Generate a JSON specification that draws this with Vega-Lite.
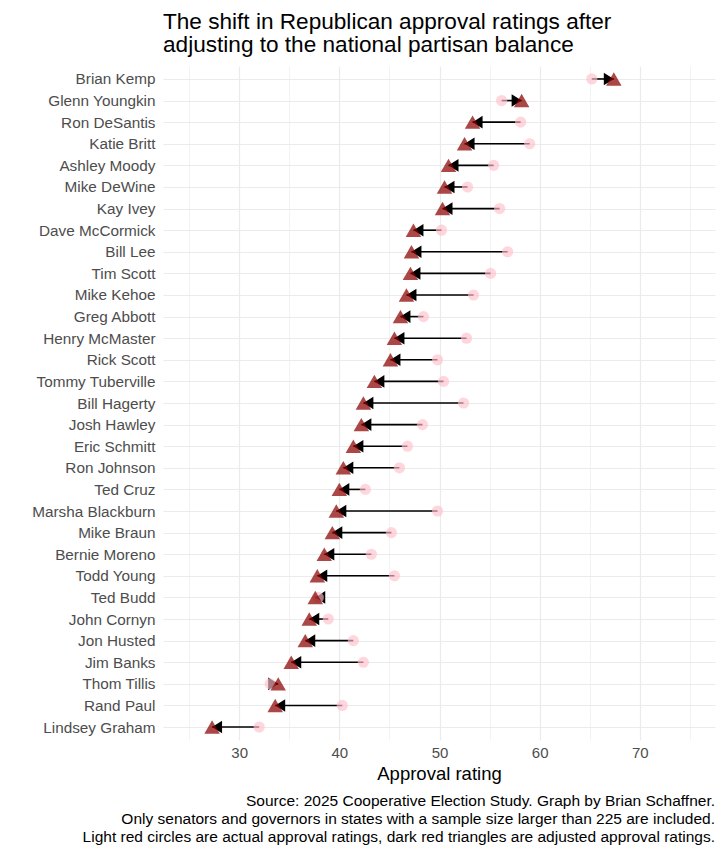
{
  "$schema": "https://vega.github.io/schema/vega-lite/v6.json",
  "padding": {"left": 31, "top": 10, "right": 12, "bottom": 2},
  "config": {
    "font": "Liberation Sans",
    "view": {"stroke": null},
    "axisY": {"ticks": false, "domain": false, "grid": true, "labelFontSize": 15.3, "labelColor": "#4D4D4D", "labelPadding": 8, "gridColor": "#EBEBEB", "gridWidth": 1.2, "minExtent": 130, "maxExtent": 130},
    "axisX": {"ticks": false, "domain": false, "grid": true, "labelFontSize": 15, "labelColor": "#4D4D4D", "labelPadding": 5, "gridColor": "#EBEBEB", "titleFontSize": 18.5, "titleFontWeight": "normal", "titleColor": "black", "titlePadding": 4}
  },
  "title": {
    "text": ["Source: 2025 Cooperative Election Study. Graph by Brian Schaffner.", "Only senators and governors in states with a sample size larger than 225 are included.", "Light red circles are actual approval ratings, dark red triangles are adjusted approval ratings."],
    "orient": "bottom", "anchor": "end", "frame": "group", "fontSize": 15.5, "fontWeight": "normal", "lineHeight": 18, "offset": 11, "color": "black", "font": "Liberation Sans"
  },
  "vconcat": [
    {
      "width": 552,
      "height": 674,
      "title": {
        "text": ["The shift in Republican approval ratings after", "adjusting to the national partisan balance"],
        "anchor": "start", "frame": "group", "fontSize": 22.6, "fontWeight": "normal", "lineHeight": 23.5, "offset": 9, "color": "black", "font": "Liberation Sans"
      },
      "data": {"values": [
        {"name": "Brian Kemp", "actual": 65.2, "adjusted": 67.4},
        {"name": "Glenn Youngkin", "actual": 56.2, "adjusted": 58.2},
        {"name": "Ron DeSantis", "actual": 58.1, "adjusted": 53.3},
        {"name": "Katie Britt", "actual": 59.0, "adjusted": 52.5},
        {"name": "Ashley Moody", "actual": 55.4, "adjusted": 50.9},
        {"name": "Mike DeWine", "actual": 52.8, "adjusted": 50.5},
        {"name": "Kay Ivey", "actual": 56.0, "adjusted": 50.3},
        {"name": "Dave McCormick", "actual": 50.2, "adjusted": 47.4},
        {"name": "Bill Lee", "actual": 56.8, "adjusted": 47.2},
        {"name": "Tim Scott", "actual": 55.1, "adjusted": 47.1},
        {"name": "Mike Kehoe", "actual": 53.4, "adjusted": 46.7},
        {"name": "Greg Abbott", "actual": 48.4, "adjusted": 46.1},
        {"name": "Henry McMaster", "actual": 52.7, "adjusted": 45.5},
        {"name": "Rick Scott", "actual": 49.8, "adjusted": 45.1},
        {"name": "Tommy Tuberville", "actual": 50.4, "adjusted": 43.5},
        {"name": "Bill Hagerty", "actual": 52.4, "adjusted": 42.4},
        {"name": "Josh Hawley", "actual": 48.3, "adjusted": 42.2},
        {"name": "Eric Schmitt", "actual": 46.8, "adjusted": 41.4},
        {"name": "Ron Johnson", "actual": 46.0, "adjusted": 40.4},
        {"name": "Ted Cruz", "actual": 42.6, "adjusted": 40.0},
        {"name": "Marsha Blackburn", "actual": 49.8, "adjusted": 39.7},
        {"name": "Mike Braun", "actual": 45.2, "adjusted": 39.3},
        {"name": "Bernie Moreno", "actual": 43.2, "adjusted": 38.5},
        {"name": "Todd Young", "actual": 45.5, "adjusted": 37.8},
        {"name": "Ted Budd", "actual": 37.9, "adjusted": 37.6},
        {"name": "John Cornyn", "actual": 38.9, "adjusted": 37.0},
        {"name": "Jon Husted", "actual": 41.4, "adjusted": 36.6},
        {"name": "Jim Banks", "actual": 42.4, "adjusted": 35.2},
        {"name": "Thom Tillis", "actual": 33.1, "adjusted": 33.9},
        {"name": "Rand Paul", "actual": 40.3, "adjusted": 33.6},
        {"name": "Lindsey Graham", "actual": 32.0, "adjusted": 27.3}
      ]},
      "encoding": {
        "y": {"field": "name", "type": "nominal", "sort": null, "title": null, "scale": {"type": "point", "padding": 0.6}}
      },
      "layer": [
        {
          "mark": {"type": "rule", "color": "black", "strokeWidth": 1.6},
          "encoding": {
            "x": {"field": "actual", "type": "quantitative", "title": "Approval rating",
              "scale": {"domain": [22.4, 77.5], "nice": false, "zero": false},
              "axis": {
                "values": [25, 30, 35, 40, 45, 50, 55, 60, 65, 70, 75],
                "labelExpr": "datum.value % 10 === 0 ? datum.label : ''",
                "gridWidth": {"condition": {"test": "datum.value % 10 === 5", "value": 0.6}, "value": 1.2}
              }},
            "x2": {"field": "adjusted"}
          }
        },
        {
          "mark": {"type": "point", "filled": true, "color": "black", "opacity": 1, "size": 400, "strokeWidth": 0},
          "encoding": {
            "x": {"field": "adjusted", "type": "quantitative", "title": "Approval rating"},
            "shape": {"condition": {"test": "datum.adjusted < datum.actual", "value": "M0,0L1,-0.63L1,0.63Z"}, "value": "M0,0L-1,-0.63L-1,0.63Z"}
          }
        },
        {
          "mark": {"type": "circle", "color": "pink", "opacity": 0.65, "size": 125},
          "encoding": {
            "x": {"field": "actual", "type": "quantitative", "title": "Approval rating"}
          }
        },
        {
          "mark": {"type": "point", "shape": "triangle-up", "filled": true, "color": "#8B0000", "opacity": 0.72, "size": 240, "strokeWidth": 0},
          "encoding": {
            "x": {"field": "adjusted", "type": "quantitative", "title": "Approval rating"}
          }
        }
      ]
    }
  ]
}
